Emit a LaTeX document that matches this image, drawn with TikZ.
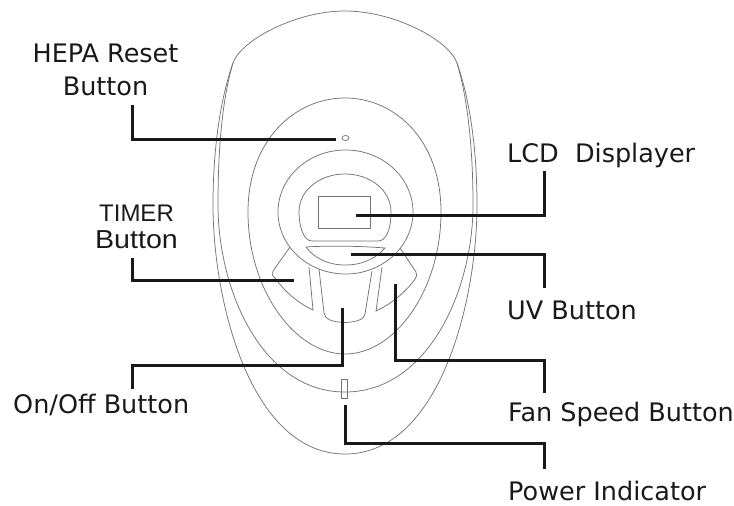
\documentclass[tikz,border=0pt]{standalone}
\usepackage{fontspec}
\setmainfont{DejaVu Sans}
\newfontfamily\arialfont{Liberation Sans}
\newfontfamily\widearialfont[FakeStretch=1.1]{Liberation Sans}
\usetikzlibrary{positioning}

\begin{document}
\begin{tikzpicture}[x=1pt, y=-1pt,
  outline/.style={draw=black!55, line width=0.75pt},
  leader/.style={draw=black!90, line width=3pt},
  caption/.style={text=black!90, inner sep=0pt, anchor=base west, font=\fontsize{25.5}{33}\selectfont}]
  \useasboundingbox (0,0) rectangle (734,506);

  % Body
  \draw[outline] (233,63) .. controls (241,40) and (296,11) .. (345,11) .. controls (394,11) and (449,40) .. (457,63);
  \draw[outline] (233,63) .. controls (220,100) and (213,150) .. (213,205) .. controls (213,300) and (250,454) .. (345,454)
    .. controls (440,454) and (477,300) .. (477,205) .. controls (477,150) and (470,100) .. (457,63);
  \draw[outline] (233,63) .. controls (222,100) and (218,150) .. (218,205) .. controls (218,290) and (262,392) .. (345,392)
    .. controls (428,392) and (473,290) .. (473,205) .. controls (473,150) and (468,100) .. (457,63);
  \draw[outline] (345,98) .. controls (295,98) and (248,140) .. (248,212) .. controls (248,290) and (295,354) .. (345,354)
    .. controls (395,354) and (441,290) .. (441,212) .. controls (441,140) and (395,98) .. (345,98);

  % Ring and display
  \draw[outline] (345.5,212) ellipse [x radius=67.5, y radius=62];
  \draw[outline] (312,241) -- (378,241) .. controls (385,241) and (391,232) .. (391,212) .. controls (391,190) and (370,174) .. (345,174)
    .. controls (320,174) and (299,190) .. (299,212) .. controls (299,225) and (303,241) .. (312,241);
  \draw[outline] (318.5,196) rectangle (370,228);
  \draw[outline] (345.5,138) ellipse [x radius=3.5, y radius=2.5];
  \draw[outline] (341,379) rectangle (347,398);

  % Buttons
  \draw[outline] (306,247) .. controls (330,245.5) and (360,246) .. (385,248) .. controls (375,259) and (362,265) .. (345,265) .. controls (328,265) and (314,258) .. (306,247);
  \draw[outline] (290,247) -- (273,271) .. controls (272,274) and (272,276) .. (275,278) .. controls (285,292) and (298,303) .. (313,310) -- (309,267);
  \draw[outline] (400,248) -- (416,272) .. controls (417,275) and (417,277) .. (415,279) .. controls (405,293) and (391,304) .. (376,311) -- (382,267);
  \draw[outline] (319,269) -- (324,313) .. controls (325,319) and (331,322) .. (345,322.5) .. controls (358,322) and (364,319) .. (365,314) -- (372,271);

  % Labels
  \node[caption, anchor=south, align=center] (hepaLabel) at (105.5,96) {HEPA Reset\\Button};
  \node[caption] (lcdLabel) at (507,162) {LCD\ \ Displayer};
  \node[caption, anchor=south, align=center, font=\fontsize{26}{27}\selectfont] (timerLabel) at (136.5,249)
    {{\fontsize{24}{27}\arialfont TIMER}\\{\widearialfont Button}};
  \node[caption] (uvLabel) at (507,319) {UV Button};
  \node[caption] (onoffLabel) at (13,413) {On/Off Button};
  \node[caption] (fanLabel) at (508,421) {Fan Speed Button};
  \node[caption] (powerLabel) at (508,500) {Power Indicator};

  % Leaders
  \coordinate (hepaEnd) at (336,139);
  \coordinate (lcdEnd) at (356,215);
  \coordinate (timerEnd) at (294,280);
  \coordinate (uvEnd) at (351,254.5);
  \coordinate (onoffTurn) at (342,365);
  \coordinate (onoffEnd) at (342,308);
  \coordinate (fanTurn) at (395,360);
  \coordinate (fanEnd) at (395,284);
  \coordinate (powerTurn) at (345,443);
  \coordinate (powerEnd) at (345,405);
  \draw[leader] ([xshift=26.5pt, yshift=-9pt]hepaLabel.south) |- (hepaEnd);
  \draw[leader] ([xshift=37pt, yshift=-9pt]lcdLabel.base west) |- (lcdEnd);
  \draw[leader] ([xshift=-4.5pt, yshift=-9pt]timerLabel.south) |- (timerEnd);
  \draw[leader] ([xshift=37pt, yshift=31pt]uvLabel.base west) |- (uvEnd);
  \draw[leader] ([xshift=119pt, yshift=24pt]onoffLabel.base west) |- (onoffTurn) -- (onoffEnd);
  \draw[leader] ([xshift=36pt, yshift=28pt]fanLabel.base west) |- (fanTurn) -- (fanEnd);
  \draw[leader] ([xshift=36pt, yshift=31pt]powerLabel.base west) |- (powerTurn) -- (powerEnd);
\end{tikzpicture}
\end{document}
